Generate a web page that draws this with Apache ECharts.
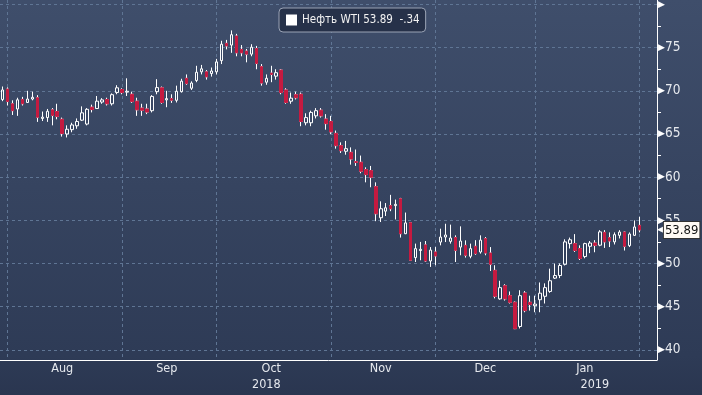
<!DOCTYPE html>
<html><head><meta charset="utf-8">
<script src="https://cdn.jsdelivr.net/npm/echarts@6/dist/echarts.min.js"></script>
<style>html,body{margin:0;padding:0;background:#2b3752}#c{width:702px;height:395px}</style>
</head><body><div id="c"></div>
<script>
// ---- data ----
const dates = [
 '2018-07-30','2018-07-31',
 '2018-08-01','2018-08-02','2018-08-03','2018-08-06','2018-08-07','2018-08-08','2018-08-09','2018-08-10','2018-08-13','2018-08-14','2018-08-15','2018-08-16','2018-08-17','2018-08-20','2018-08-21','2018-08-22','2018-08-23','2018-08-24','2018-08-27','2018-08-28','2018-08-29','2018-08-30','2018-08-31',
 '2018-09-04','2018-09-05','2018-09-06','2018-09-07','2018-09-10','2018-09-11','2018-09-12','2018-09-13','2018-09-14','2018-09-17','2018-09-18','2018-09-19','2018-09-20','2018-09-21','2018-09-24','2018-09-25','2018-09-26','2018-09-27','2018-09-28',
 '2018-10-01','2018-10-02','2018-10-03','2018-10-04','2018-10-05','2018-10-08','2018-10-09','2018-10-10','2018-10-11','2018-10-12','2018-10-15','2018-10-16','2018-10-17','2018-10-18','2018-10-19','2018-10-22','2018-10-23','2018-10-24','2018-10-25','2018-10-26','2018-10-29','2018-10-30','2018-10-31',
 '2018-11-01','2018-11-02','2018-11-05','2018-11-06','2018-11-07','2018-11-08','2018-11-09','2018-11-12','2018-11-13','2018-11-14','2018-11-15','2018-11-16','2018-11-19','2018-11-20','2018-11-21','2018-11-23','2018-11-26','2018-11-27','2018-11-28','2018-11-29','2018-11-30',
 '2018-12-03','2018-12-04','2018-12-05','2018-12-06','2018-12-07','2018-12-10','2018-12-11','2018-12-12','2018-12-13','2018-12-14','2018-12-17','2018-12-18','2018-12-19','2018-12-20','2018-12-21','2018-12-24','2018-12-26','2018-12-27','2018-12-28','2018-12-31',
 '2019-01-02','2019-01-03','2019-01-04','2019-01-07','2019-01-08','2019-01-09','2019-01-10','2019-01-11','2019-01-14','2019-01-15','2019-01-16','2019-01-17','2019-01-18','2019-01-22','2019-01-23','2019-01-24','2019-01-25','2019-01-28','2019-01-29','2019-01-30','2019-01-31'
];
const padDates = ['2019-02-01','2019-02-04','2019-02-05'];

const open = [69.0,70.2,68.5,67.9,69.0,68.65,69.05,69.2,66.8,66.9,67.8,67.6,66.7,65.0,65.5,65.95,66.6,66.15,68.1,67.95,68.7,69.0,68.5,69.8,70.15,
 69.85,69.6,68.8,68.0,67.9,67.7,69.9,70.35,68.95,69.1,68.9,69.9,71.45,70.3,71.2,72.2,72.2,72.0,72.2,
 73.5,75.5,75.3,76.35,74.8,74.6,74.25,74.9,72.8,71.0,72.05,71.7,72.4,70.1,68.8,69.55,69.6,66.3,66.3,67.1,67.75,66.73,66.45,
 65.07,63.65,63.0,62.87,61.8,61.72,60.88,60.76,58.9,55.3,56.06,56.7,56.7,57.5,53.45,54.72,50.68,51.5,52.15,50.29,51.33,
 52.48,53.06,52.56,53.0,51.9,52.1,50.83,51.99,51.33,52.88,51.21,49.2,45.9,47.42,46.27,45.5,42.7,46.58,45.5,45.1,
 45.8,46.2,46.76,48.3,48.6,49.9,52.3,52.3,51.73,50.8,51.99,52.37,52.12,53.6,52.99,52.5,53.26,53.64,52.07,53.26,54.41];
const high = [70.5,70.4,68.9,69.2,69.3,70.0,69.9,69.5,67.6,67.9,68.0,68.5,66.9,66.0,66.3,66.8,68.2,68.0,68.4,69.4,69.15,69.2,69.7,70.65,70.3,
 71.45,69.9,69.2,68.5,68.5,69.5,71.35,70.5,70.0,69.6,70.6,71.4,71.9,71.1,72.9,73.0,72.4,72.7,73.7,
 75.8,75.9,77.0,76.6,75.3,74.85,75.4,75.2,73.1,71.9,72.9,72.5,72.5,70.3,69.8,69.9,69.8,67.4,67.7,68.0,68.0,67.3,67.1,
 65.4,64.03,64.2,63.45,63.2,62.5,61.14,61.3,59.4,57.2,57.0,57.95,57.4,57.6,55.9,54.75,52.3,52.5,52.6,51.9,51.9,
 54.03,54.6,54.5,53.26,54.3,52.68,52.3,52.7,53.26,53.06,51.9,49.8,48.0,47.6,46.76,45.6,46.9,46.8,46.27,46.27,
 47.8,47.7,49.4,49.98,50.0,52.8,53.0,53.4,52.1,52.4,52.6,52.7,53.86,53.86,53.6,53.6,53.86,53.7,53.6,54.99,55.4];
const low = [68.8,68.3,67.2,67.1,68.3,68.6,68.9,66.4,66.5,66.4,66.0,66.7,64.7,64.6,65.2,65.6,66.5,66.0,67.5,67.9,68.5,68.3,68.3,69.6,69.6,
 69.4,68.6,67.1,67.1,67.3,67.5,69.6,68.5,68.1,68.6,68.65,69.8,70.7,70.1,71.0,71.9,71.3,71.65,71.9,
 73.1,74.8,74.4,74.0,74.0,73.3,74.0,72.5,70.6,70.7,71.0,71.3,69.6,68.5,68.5,69.0,65.9,66.0,65.9,66.8,66.9,65.5,65.0,
 63.3,62.8,62.6,61.45,61.3,60.45,59.4,58.83,54.9,54.8,55.5,56.06,55.1,53.0,53.4,50.3,50.17,50.37,50.17,49.6,49.8,
 52.1,52.48,52.3,50.17,50.95,50.68,50.6,51.0,51.14,50.95,49.13,45.96,45.8,45.7,45.36,42.4,42.47,44.35,44.54,44.35,
 44.35,45.36,46.6,48.2,48.3,49.77,51.73,51.33,50.4,50.6,51.2,51.3,52.0,51.8,51.9,52.2,52.9,51.5,51.9,53.2,53.6];
const close = [70.1,68.76,67.7,68.96,68.5,69.05,69.25,66.94,66.95,67.63,67.15,67.04,65.05,65.55,66.05,66.45,67.45,67.86,67.83,68.8,68.95,68.5,69.55,70.35,69.8,
 69.95,68.75,67.8,67.75,67.54,69.35,70.37,68.65,69.1,68.91,69.95,71.12,70.84,70.9,72.15,72.55,71.62,72.3,73.35,
 75.4,75.2,76.5,74.4,74.4,74.25,75.05,73.17,70.9,71.45,71.9,72.1,69.8,68.65,69.15,69.2,66.45,66.9,67.5,67.7,67.1,66.2,65.25,
 63.65,63.07,63.3,62.1,61.7,60.68,60.3,59.99,55.76,56.34,56.45,56.34,56.85,53.45,54.7,50.37,51.72,51.64,50.29,51.55,50.87,
 53.06,53.3,52.95,51.52,52.6,50.95,51.72,51.14,52.7,51.21,49.91,46.2,47.2,45.9,45.5,42.45,46.27,44.54,45.24,45.3,
 46.56,47.2,48.0,48.6,49.77,52.5,52.75,51.5,50.58,52.3,52.37,52.1,53.66,52.5,52.6,53.34,53.64,51.99,53.41,54.23,53.89];

const yMin = 40, yMax = 80, yStep = 5;
const seriesName = 'Нефть WTI';
const monthNames = ['Jan','Feb','Mar','Apr','May','Jun','Jul','Aug','Sep','Oct','Nov','Dec'];

// ---- derived ----
const cats = dates.concat(padDates);
const n = cats.length;
const mon = s => +s.slice(5,7) - 1;
const yr = s => s.slice(0,4);
const monthEnds = [];
for (let i = 0; i < n - 1; i++) if (mon(cats[i]) !== mon(cats[i+1])) monthEnds.push(i);
const monthLabelIdx = {};
for (let k = 0; k < monthEnds.length - 1; k++) {
  const m = Math.floor((monthEnds[k] + monthEnds[k+1]) / 2);
  monthLabelIdx[m] = monthNames[mon(cats[monthEnds[k+1]])];
}
const yearEnds = [];
for (let i = 0; i < n - 1; i++) if (yr(cats[i]) !== yr(cats[i+1])) yearEnds.push(i);
const yb = [0].concat(yearEnds, [n - 1]);
const yearLabelIdx = {};
for (let k = 0; k < yb.length - 1; k++) {
  const m = Math.floor((yb[k] + yb[k+1]) / 2);
  yearLabelIdx[m] = yr(cats[yb[k+1]]);
}
const meSet = new Set(monthEnds), yeSet = new Set(yearEnds);

const allData = dates.map((d,i) => [open[i], close[i], low[i], high[i]]);
const downData = dates.map((d,i) => close[i] < open[i]
  ? [open[i], close[i], close[i], open[i]] : ['-','-','-','-']);
const last = close[close.length-1], prev = close[close.length-2];
const chg = (last - prev).toFixed(2).replace(/^(-?)0\./, '$1.');

const FONT = '"Liberation Sans Narrow","DejaVu Sans Condensed","Liberation Sans",sans-serif';
const RED = '#c51a40';
const GRID_L = 0, GRID_R = 45;

const chart = echarts.init(document.getElementById('c'), null, {renderer:'canvas'});
chart.setOption({
  animation: false,
  backgroundColor: new echarts.graphic.LinearGradient(0,0,0,1,[
    {offset:0,color:'#3f4e6b'},{offset:0.9,color:'#2e3b56'},{offset:1,color:'#2a3650'}]),
  legend: {
    left: 279, top: 8, padding: [6, 6, 6, 7],
    backgroundColor: '#263149', borderColor: '#9aa3b5', borderWidth: 1, borderRadius: 4,
    itemWidth: 11, itemHeight: 11, itemGap: 6,
    data: [{name: seriesName, icon: 'rect', itemStyle: {color: '#ffffff', borderWidth: 0}}],
    formatter: name => name + ' ' + last.toFixed(2) + '  ' + chg,
    textStyle: {color: '#f2f2f2', fontSize: 11.5, fontFamily: FONT}
  },
  grid: [
    {left: GRID_L, right: GRID_R, top: 0, bottom: 35},
    {left: GRID_L, right: GRID_R, top: 3.4, bottom: 45.2}
  ],
  xAxis: [
    { type: 'category', gridIndex: 0, data: cats, boundaryGap: true,
      axisLine: {onZero: false, lineStyle: {color: '#ffffff', width: 1}},
      axisTick: {alignWithLabel: true, length: 4, interval: i => meSet.has(i), lineStyle: {color: '#ffffff'}},
      axisLabel: {interval: i => i in monthLabelIdx, formatter: (v,i) => monthLabelIdx[i] || '',
        color: '#e6e9ee', fontSize: 12.5, fontFamily: FONT, margin: 2},
      splitLine: {show: true, alignWithLabel: true, interval: i => meSet.has(i),
        lineStyle: {color: '#5f7594', type: [3,3], width: 1}}
    },
    { type: 'category', gridIndex: 0, data: cats, boundaryGap: true, position: 'bottom', offset: 16,
      axisLine: {show: false, onZero: false},
      axisTick: {alignWithLabel: true, length: 20, interval: i => yeSet.has(i), lineStyle: {color: '#c8cdd6'}},
      axisLabel: {interval: i => i in yearLabelIdx, formatter: (v,i) => yearLabelIdx[i] || '',
        color: '#e6e9ee', fontSize: 12.5, fontFamily: FONT, margin: 2},
      splitLine: {show: false}
    },
    { type: 'category', gridIndex: 1, data: cats, boundaryGap: true, show: false }
  ],
  yAxis: [
    { type: 'value', gridIndex: 0, min: 0, max: 1, position: 'right',
      axisLine: {show: true, lineStyle: {color: '#ffffff'}}, axisTick: {show: false},
      axisLabel: {show: false}, splitLine: {show: false} },
    { type: 'value', gridIndex: 1, min: yMin, max: yMax, interval: yStep, position: 'right',
      axisLine: {show: false}, axisTick: {show: false},
      minorTick: {show: true, splitNumber: 2, length: 4, lineStyle: {color: '#ffffff'}},
      splitLine: {show: true, lineStyle: {color: '#5f7594', type: [3,3], width: 1}},
      axisLabel: {margin: 1,
        formatter: v => v === yMax ? '{t|▶}' : '{t|▶}{v|' + v + '}',
        rich: {t: {color: '#ffffff', fontSize: 9, fontFamily: '"DejaVu Sans",sans-serif'},
               v: {color: '#e6e9ee', fontSize: 13.5, fontFamily: FONT}}}
    }
  ],
  series: [
    { type: 'line', xAxisIndex: 0, yAxisIndex: 0, data: [], silent: true },
    { name: seriesName, type: 'candlestick', xAxisIndex: 2, yAxisIndex: 1, data: allData,
      barWidth: 3, clip: false,
      itemStyle: {color: 'rgba(0,0,0,0)', color0: RED, borderColor: '#ffffff', borderColor0: '#ffffff', borderWidth: 1},
      markLine: {silent: true, symbol: ['none','none'], animation: false, z: 10,
        lineStyle: {color: 'rgba(0,0,0,0)', width: 0}, data: [{yAxis: last}],
        label: {show: true, position: 'end', distance: 0,
          formatter: () => '{a|◀}{b|' + last.toFixed(2) + '}',
          rich: {a: {color: '#ffffff', fontSize: 9, fontFamily: '"DejaVu Sans",sans-serif'},
                 b: {backgroundColor: '#fffaf4', color: '#111111', fontSize: 13, fontFamily: FONT,
                     padding: [2,1,1,1], borderColor: '#333333', borderWidth: 1}}}}
    },
    { name: 'down', type: 'candlestick', xAxisIndex: 2, yAxisIndex: 1, data: downData,
      barWidth: 3,
      itemStyle: {color: RED, color0: RED, borderColor: RED, borderColor0: RED, borderWidth: 1} }
  ]
});
</script></body></html>
